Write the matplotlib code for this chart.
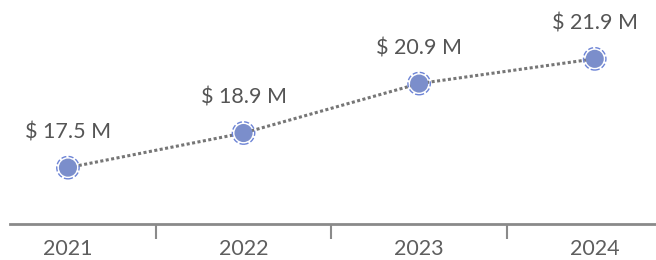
import numpy as np
from matplotlib import pyplot as plt

years = ["2021", "2022", "2023", "2024"]
revenue = [17.5, 18.9, 20.9, 21.9]
labels = [f"$ {v} M" for v in revenue]

plt.rcParams["font.family"] = ["Lato", "DejaVu Sans"]

fig = plt.figure(figsize=(6.56, 2.6), dpi=100)
ax = fig.add_axes([10 / 656, 36 / 260, 646 / 656, 224 / 260])

x = np.arange(len(years))
ax.plot(x, revenue, linestyle=(0, (1, 0.8)), color="#767676", linewidth=2.2, zorder=2)
ax.scatter(x, revenue, s=170, color="#7b8ecb", edgecolors="none", zorder=3)
ax.scatter(x, revenue, s=260, facecolors="none", edgecolors="#6d84d6",
           linewidths=1.0, linestyles="--", zorder=4)

for xi, v, lab in zip(x, revenue, labels):
    ax.annotate(lab, (xi, v), xytext=(0, 21), textcoords="offset points",
                ha="center", va="baseline", fontsize=15.5, color="#555555")

ax.set_xlim(-0.33, 3.349)
ax.set_ylim(15.22, 24.28)

ax.set_xticks(x)
ax.set_xticklabels(years, fontsize=15.5, color="#5e5e5e")
ax.tick_params(axis="x", which="major", length=0, pad=11)
ax.set_xticks([0.5, 1.5, 2.5], minor=True)
ax.tick_params(axis="x", which="minor", length=11, width=1.5, color="#8a8a8a", direction="out")
ax.set_yticks([])

for side in ["top", "right", "left"]:
    ax.spines[side].set_visible(False)
ax.spines["bottom"].set_color("#8a8a8a")
ax.spines["bottom"].set_linewidth(2)

fig.savefig("out.png", dpi=100)
